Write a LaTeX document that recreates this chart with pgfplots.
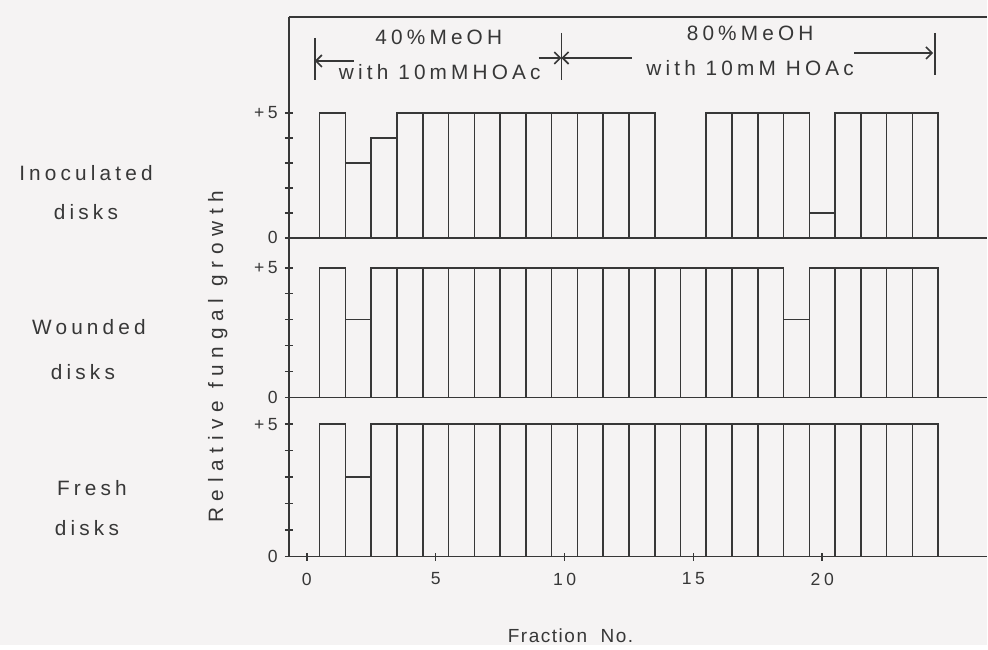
\documentclass[border=0pt]{standalone}
\usepackage{fontspec}
\setmainfont[LetterSpace=20]{Liberation Sans}
\newfontfamily\fracfont[LetterSpace=8]{Liberation Sans}
\newfontfamily\ylabfont[LetterSpace=32]{Liberation Sans}
\usepackage{pgfplots}
\pgfplotsset{compat=1.18}
\usetikzlibrary{arrows.meta}
\definecolor{ink}{RGB}{55,55,55}
\definecolor{paper}{RGB}{245,243,243}

% one panel = one row of fractions 1..24
\pgfplotsset{panel/.style={
  scale only axis, width=349.5pt,
  xmin=-0.7, xmax=26.4, ymin=0,
  axis y line*=left, axis x line*=bottom,
  axis line style={ink, line width=0.8pt},
  ytick={0,5}, yticklabels={0,+5}, minor ytick={1,2,3,4},
  major tick length=4pt, minor tick length=4pt,
  tick style={ink, line width=0.8pt},
  xtick=\empty,
  yticklabel style={font=\fontsize{8.8}{10}\selectfont, text=ink},
  ybar, bar width=1, clip=false,
}}
\tikzset{bars/.style={draw=ink, fill=none, line width=0.8pt},
  ann/.style={ink, line width=0.8pt}}

\begin{document}
\begin{tikzpicture}
\fill[paper] (0,0) rectangle (494pt,323pt);

% Inoculated disks
\begin{axis}[panel, at={(144.5pt,204pt)}, anchor=south west,
  height=110.5pt, ymax=8.84, axis x line*=box,
  xtick align=center, ytick align=center]
\addplot[bars] coordinates {
  (1,5) (2,3) (3,4) (4,5) (5,5) (6,5) (7,5) (8,5) (9,5) (10,5)
  (11,5) (12,5) (13,5)
  (16,5) (17,5) (18,5) (19,5) (20,1) (21,5) (22,5) (23,5) (24,5)
};
\draw[ann] (axis cs:0.31,8.0) -- (axis cs:0.31,6.32);
\draw[ann,-{Straight Barb[length=3pt]}] (axis cs:1.82,7.08) -- (axis cs:0.31,7.08);
\draw[ann] (axis cs:9.88,8.2) -- (axis cs:9.88,6.32);
\draw[ann,-{Straight Barb[length=3pt]}] (axis cs:8.99,7.2) -- (axis cs:9.88,7.2);
\draw[ann,-{Straight Barb[length=3pt]}] (axis cs:12.6,7.2) -- (axis cs:9.88,7.2);
\draw[ann,-{Straight Barb[length=3pt]}] (axis cs:21.24,7.4) -- (axis cs:24.3,7.4);
\draw[ann] (axis cs:24.38,8.2) -- (axis cs:24.38,6.52);
\node[text=ink, font=\fontsize{10.4}{12}\selectfont] at (axis cs:5.12,8.04) {40\%MeOH};
\node[text=ink, font=\fontsize{10.4}{12}\selectfont] at (axis cs:5.16,6.64) {with 10mMHOAc};
\node[text=ink, font=\fontsize{10.4}{12}\selectfont] at (axis cs:17.2,8.2) {80\%MeOH};
\node[text=ink, font=\fontsize{10.4}{12}\selectfont] at (axis cs:17.2,6.8) {with 10mM HOAc};
\end{axis}

% Wounded disks
\begin{axis}[panel, at={(144.5pt,124pt)}, anchor=south west,
  height=80pt, ymax=6.15,
  xtick align=center, ytick align=center]
\addplot[bars] coordinates {
  (1,5) (2,3) (3,5) (4,5) (5,5) (6,5) (7,5) (8,5) (9,5) (10,5)
  (11,5) (12,5) (13,5) (14,5) (15,5) (16,5) (17,5) (18,5)
  (19,3) (20,5) (21,5) (22,5) (23,5) (24,5)
};
\end{axis}

% Fresh disks
\begin{axis}[panel, at={(144.5pt,44.5pt)}, anchor=south west,
  height=79.5pt, ymax=6.0,
  xtick={0,5,10,15,20}, xticklabels={0,5,10,15,20},
  xticklabel style={font=\fontsize{8.8}{10}\selectfont, text=ink, yshift=-2.6pt},
  xtick align=center, ytick align=center]
\addplot[bars] coordinates {
  (1,5) (2,3) (3,5) (4,5) (5,5) (6,5) (7,5) (8,5) (9,5) (10,5)
  (11,5) (12,5) (13,5) (14,5) (15,5) (16,5) (17,5) (18,5)
  (19,5) (20,5) (21,5) (22,5) (23,5) (24,5)
};
\end{axis}

\begin{scope}[every node/.style={text=ink, font=\fontsize{10.4}{12}\selectfont}]
\node at (43pt,236.5pt) {Inoculated};
\node at (43pt,217pt) {disks};
\node at (44.5pt,159.5pt) {Wounded};
\node at (41.5pt,137pt) {disks};
\node at (46pt,79pt) {Fresh};
\node at (43.5pt,59pt) {disks};
\node[rotate=90, font=\fontsize{10.4}{12}\ylabfont] at (109pt,144.5pt) {Relative fungal growth};
\node[font=\fontsize{9.5}{11}\fracfont] at (285.5pt,5pt) {Fraction\ \ No.};
\end{scope}
\end{tikzpicture}
\end{document}
